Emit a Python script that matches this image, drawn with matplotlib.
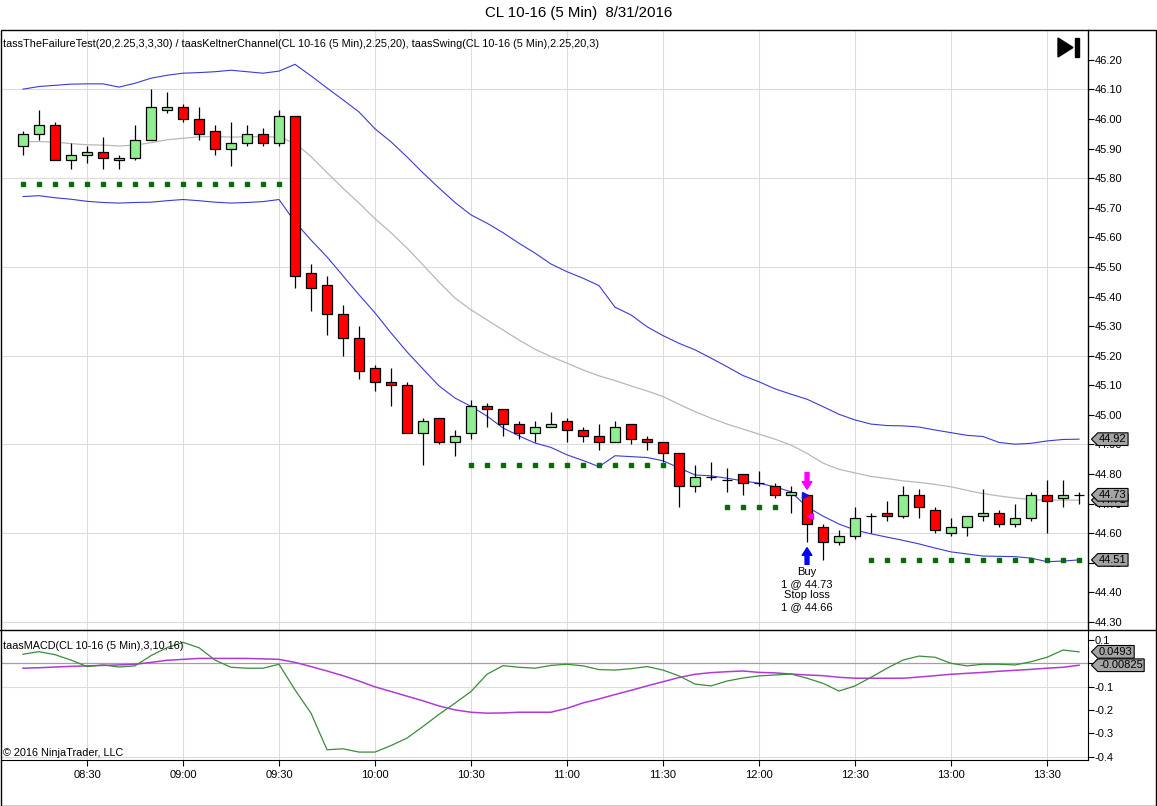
import numpy as np
import pandas as pd
import matplotlib
matplotlib.use('Agg')
import matplotlib.pyplot as plt
from matplotlib.path import Path
from matplotlib.patches import Rectangle, Polygon
from matplotlib.lines import Line2D

plt.rcParams['font.family'] = ['Liberation Sans', 'DejaVu Sans']
plt.rcParams['axes.unicode_minus'] = False

# 5 minute bars, CL 10-16, 31 Aug 2016
times = pd.date_range('2016-08-31 08:10', periods=67, freq='5min')

opens = [45.91, 45.95, 45.98, 45.86, 45.88, 45.89, 45.86, 45.87, 45.93, 46.03,
         46.04, 46.00, 45.96, 45.90, 45.92, 45.95, 45.92, 46.01, 45.48, 45.44,
         45.34, 45.26, 45.16, 45.11, 45.10, 44.94, 44.99, 44.91, 44.94, 45.03,
         45.02, 44.97, 44.94, 44.96, 44.98, 44.95, 44.93, 44.91, 44.97, 44.92,
         44.91, 44.87, 44.76, 44.79, 44.78, 44.80, 44.77, 44.76, 44.73, 44.73,
         44.62, 44.57, 44.59, 44.66, 44.67, 44.66, 44.73, 44.68, 44.60, 44.62,
         44.66, 44.67, 44.63, 44.65, 44.73, 44.72, 44.73]
highs = [45.96, 46.03, 45.99, 45.92, 45.91, 45.94, 45.88, 45.98, 46.10, 46.09,
         46.05, 46.04, 45.98, 45.99, 45.98, 45.97, 46.03, 46.01, 45.51, 45.47,
         45.37, 45.30, 45.17, 45.16, 45.11, 44.99, 44.99, 44.95, 45.05, 45.04,
         45.02, 44.98, 44.98, 45.01, 44.99, 44.96, 44.97, 44.98, 44.97, 44.93,
         44.91, 44.87, 44.83, 44.84, 44.82, 44.80, 44.81, 44.77, 44.76, 44.73,
         44.63, 44.61, 44.69, 44.67, 44.71, 44.76, 44.75, 44.69, 44.65, 44.66,
         44.75, 44.68, 44.70, 44.74, 44.78, 44.78, 44.74]
lows = [45.88, 45.93, 45.86, 45.83, 45.85, 45.83, 45.83, 45.86, 45.93, 46.02,
        45.99, 45.93, 45.88, 45.84, 45.91, 45.91, 45.91, 45.43, 45.35, 45.27,
        45.20, 45.12, 45.08, 45.03, 44.94, 44.83, 44.90, 44.86, 44.92, 44.96,
        44.93, 44.92, 44.91, 44.96, 44.91, 44.91, 44.88, 44.91, 44.90, 44.88,
        44.84, 44.69, 44.74, 44.78, 44.74, 44.73, 44.76, 44.72, 44.67, 44.57,
        44.51, 44.56, 44.58, 44.60, 44.64, 44.65, 44.65, 44.60, 44.59, 44.59,
        44.64, 44.62, 44.62, 44.64, 44.60, 44.69, 44.70]
closes = [45.95, 45.98, 45.86, 45.88, 45.89, 45.87, 45.87, 45.93, 46.04, 46.04,
          46.00, 45.95, 45.90, 45.92, 45.95, 45.92, 46.01, 45.47, 45.43, 45.34,
          45.26, 45.15, 45.11, 45.10, 44.94, 44.98, 44.91, 44.93, 45.03, 45.02,
          44.97, 44.94, 44.96, 44.97, 44.95, 44.93, 44.91, 44.96, 44.92, 44.91,
          44.87, 44.76, 44.79, 44.79, 44.78, 44.77, 44.77, 44.73, 44.74, 44.63,
          44.57, 44.59, 44.65, 44.66, 44.66, 44.73, 44.69, 44.61, 44.62, 44.66,
          44.67, 44.63, 44.65, 44.73, 44.71, 44.73, 44.73]

# Keltner channel (2.25, 20)
kc_upper = [46.101, 46.110, 46.114, 46.118, 46.119, 46.119, 46.108, 46.121, 46.138, 46.148,
            46.155, 46.157, 46.160, 46.165, 46.160, 46.155, 46.162, 46.185, 46.146, 46.105,
            46.065, 46.024, 45.967, 45.923, 45.872, 45.818, 45.767, 45.718, 45.676, 45.648,
            45.616, 45.580, 45.547, 45.510, 45.484, 45.462, 45.437, 45.364, 45.338, 45.298,
            45.268, 45.242, 45.220, 45.192, 45.163, 45.133, 45.112, 45.088, 45.070, 45.053,
            45.028, 45.002, 44.983, 44.969, 44.964, 44.963, 44.959, 44.949, 44.940, 44.931,
            44.927, 44.907, 44.901, 44.904, 44.912, 44.917, 44.918]
kc_mid = [45.923, 45.924, 45.922, 45.917, 45.913, 45.912, 45.909, 45.912, 45.920, 45.930,
          45.935, 45.940, 45.941, 45.939, 45.940, 45.941, 45.938, 45.919, 45.873, 45.819,
          45.766, 45.716, 45.663, 45.616, 45.564, 45.507, 45.449, 45.395, 45.355, 45.321,
          45.287, 45.253, 45.222, 45.197, 45.175, 45.152, 45.132, 45.116, 45.098, 45.081,
          45.062, 45.036, 45.011, 44.989, 44.969, 44.952, 44.935, 44.918, 44.898, 44.870,
          44.837, 44.816, 44.804, 44.792, 44.785, 44.777, 44.772, 44.765, 44.757, 44.745,
          44.734, 44.726, 44.719, 44.714, 44.712, 44.712, 44.712]
kc_lower = [45.738, 45.741, 45.734, 45.729, 45.722, 45.718, 45.716, 45.718, 45.719, 45.724,
            45.728, 45.724, 45.719, 45.716, 45.718, 45.721, 45.728, 45.652, 45.591, 45.534,
            45.470, 45.406, 45.345, 45.277, 45.213, 45.155, 45.098, 45.057, 45.029, 44.996,
            44.956, 44.929, 44.905, 44.890, 44.865, 44.846, 44.825, 44.862, 44.859, 44.856,
            44.845, 44.821, 44.797, 44.794, 44.786, 44.777, 44.769, 44.757, 44.740, 44.689,
            44.658, 44.631, 44.611, 44.598, 44.587, 44.576, 44.564, 44.550, 44.537, 44.530,
            44.523, 44.522, 44.521, 44.516, 44.504, 44.506, 44.510]

# swing lows (level, first bar, last bar)
swing_levels = [45.78, 44.83, 44.69, 44.51]
swing_first = [0, 28, 44, 53]
swing_last = [16, 40, 47, 66]

# MACD (3, 10, 16)
macd = [0.039, 0.050, 0.037, 0.014, -0.014, -0.007, -0.016, -0.011, 0.033, 0.067,
        0.090, 0.067, 0.014, -0.017, -0.021, -0.021, -0.004, -0.114, -0.214, -0.371,
        -0.367, -0.381, -0.381, -0.353, -0.321, -0.271, -0.219, -0.171, -0.121, -0.047,
        -0.010, -0.017, -0.021, -0.009, -0.004, -0.011, -0.027, -0.029, -0.023, -0.014,
        -0.029, -0.054, -0.089, -0.097, -0.076, -0.063, -0.054, -0.050, -0.046, -0.064,
        -0.086, -0.119, -0.097, -0.060, -0.021, 0.014, 0.031, 0.026, 0.000, -0.011,
        -0.004, -0.004, -0.007, 0.007, 0.026, 0.057, 0.0493]
macd_avg = [-0.021, -0.019, -0.016, -0.013, -0.011, -0.009, -0.007, -0.004, 0.004, 0.013,
            0.017, 0.021, 0.021, 0.021, 0.021, 0.019, 0.017, 0.004, -0.014, -0.033,
            -0.053, -0.076, -0.101, -0.121, -0.141, -0.161, -0.183, -0.200, -0.210, -0.214,
            -0.213, -0.210, -0.210, -0.210, -0.193, -0.170, -0.153, -0.134, -0.116, -0.097,
            -0.079, -0.061, -0.047, -0.040, -0.036, -0.033, -0.039, -0.041, -0.046, -0.050,
            -0.053, -0.060, -0.064, -0.064, -0.064, -0.064, -0.059, -0.053, -0.047, -0.043,
            -0.039, -0.034, -0.030, -0.026, -0.021, -0.017, -0.00825]

entry_bar = 49
entry_price = 44.73
stop_price = 44.66

W, H = 1157, 806
fig = plt.figure(figsize=(W / 100, H / 100), dpi=100)


def px_box(l, t, r, b):
    return [l / W, 1 - b / H, (r - l) / W, (b - t) / H]


def tag_box(x0, y0, width, height, mutation_size):
    pad = 0.12 * mutation_size
    x0, y0 = x0 - pad, y0 - pad
    width, height = width + 2 * pad, height + 2 * pad
    tip = height * 0.5
    verts = [(x0 - tip, y0 + height / 2), (x0, y0), (x0 + width, y0),
             (x0 + width, y0 + height), (x0, y0 + height), (x0 - tip, y0 + height / 2)]
    codes = [Path.MOVETO] + [Path.LINETO] * 4 + [Path.CLOSEPOLY]
    return Path(verts, codes)


def add_tag(axis, value, text):
    axis.annotate(text, xy=(1, value), xycoords=axis.get_yaxis_transform(),
                  xytext=(8, 0), textcoords='offset points', ha='left', va='center',
                  fontsize=8, annotation_clip=False, zorder=10,
                  bbox=dict(boxstyle=tag_box, fc='#a4a4a4', ec='black', lw=0.8))


x = np.arange(len(times))
grid_c = '#dcdcdc'
tick_idx = [i for i, t in enumerate(times) if t.minute % 30 == 0]
tick_lab = [times[i].strftime('%H:%M') for i in tick_idx]

ax = fig.add_axes(px_box(1, 30, 1088, 630))
ax2 = fig.add_axes(px_box(1, 630, 1088, 760), sharex=ax)

# ---- price panel
for i in tick_idx:
    ax.axvline(i, color=grid_c, lw=0.8, zorder=0)
for lvl in np.arange(44.30, 46.15, 0.30):
    ax.axhline(lvl, color=grid_c, lw=0.8, zorder=0)

ax.plot(x, kc_upper, color='#3a3ad8', lw=0.8, zorder=2)
ax.plot(x, kc_lower, color='#3a3ad8', lw=0.8, zorder=2)
ax.plot(x, kc_mid, color='#b8b8b8', lw=0.9, zorder=2)

for lvl, a, b in zip(swing_levels, swing_first, swing_last):
    xs = np.arange(a, b + 1)
    ax.plot(xs, [lvl] * len(xs), ls='none', marker='s', ms=3.2, color='#0b6b0b', zorder=3)

o = np.array(opens)
c = np.array(closes)
body_col = ['#90ee90' if cc > oo else '#ff0000' for oo, cc in zip(o, c)]
ax.vlines(x, lows, highs, color='black', lw=0.9, zorder=4)
ax.bar(x, np.abs(c - o), bottom=np.minimum(o, c), width=0.62, color=body_col,
       edgecolor='black', linewidth=0.9, zorder=5)

# trade markers
ax.annotate('', xy=(entry_bar, highs[entry_bar]), xytext=(0, 16), textcoords='offset points',
            arrowprops=dict(arrowstyle='simple,head_length=0.55,head_width=0.7,tail_width=0.28',
                            fc='#ff00ff', ec='#ff00ff', shrinkA=0, shrinkB=4), zorder=6)
ax.annotate('', xy=(entry_bar, lows[entry_bar]), xytext=(0, -16), textcoords='offset points',
            arrowprops=dict(arrowstyle='simple,head_length=0.55,head_width=0.7,tail_width=0.28',
                            fc='#0000ff', ec='#0000ff', shrinkA=0, shrinkB=4), zorder=6)
ax.plot([entry_bar - 0.1], [entry_price], marker='>', ms=5, color='#1010e0', zorder=6)
ax.plot([entry_bar + 0.2], [stop_price], marker='<', ms=4, color='#ff00ff', zorder=6)
ax.annotate('Buy\n1 @ %.2f\nStop loss\n1 @ %.2f' % (entry_price, stop_price),
            xy=(entry_bar, lows[entry_bar]), xytext=(0, -18), textcoords='offset points',
            ha='center', va='top', fontsize=8, linespacing=1.2)

ax.set_xlim(-1.375, 66.56)
ax.set_ylim(44.273, 46.301)
ax.yaxis.tick_right()
ax.set_yticks(np.round(np.arange(44.30, 46.21, 0.10), 2))
ax.set_yticklabels(['%.2f' % v for v in np.arange(44.30, 46.21, 0.10)])
ax.tick_params(axis='y', direction='out', length=4, width=0.8, labelsize=8, pad=1)
ax.tick_params(axis='x', bottom=False, labelbottom=False)
for s in ['top', 'left', 'bottom']:
    ax.spines[s].set_visible(False)
ax.spines['right'].set_linewidth(1.0)

add_tag(ax, kc_upper[-1], '%.2f' % kc_upper[-1])
add_tag(ax, kc_mid[-1], '%.2f' % kc_mid[-1])
add_tag(ax, closes[-1], '%.2f' % closes[-1])
add_tag(ax, kc_lower[-1], '%.2f' % kc_lower[-1])

ax.text(0.002, 0.985, 'tassTheFailureTest(20,2.25,3,3,30) / taasKeltnerChannel(CL 10-16 (5 Min),2.25,20), '
        'taasSwing(CL 10-16 (5 Min),2.25,20,3)', transform=ax.transAxes, fontsize=7.8,
        ha='left', va='top')

# ---- MACD panel
for i in tick_idx:
    ax2.axvline(i, color=grid_c, lw=0.8, zorder=0)
for lvl in [-0.1, -0.4]:
    ax2.axhline(lvl, color=grid_c, lw=0.8, zorder=0)
ax2.axhline(0, color='#a0a0a0', lw=0.9, zorder=1)
ax2.plot(x, macd, color='#3a8c3a', lw=0.9, zorder=3)
ax2.plot(x, macd_avg, color='#b03ad8', lw=1.1, zorder=2)

ax2.set_ylim(-0.415, 0.143)
ax2.yaxis.tick_right()
macd_ticks = [0.1, 0, -0.1, -0.2, -0.3, -0.4]
ax2.set_yticks(macd_ticks)
ax2.set_yticklabels(['%g' % v for v in macd_ticks])
ax2.tick_params(axis='y', direction='out', length=4, width=0.8, labelsize=8, pad=1)
ax2.set_xticks(tick_idx)
ax2.set_xticklabels(tick_lab)
ax2.tick_params(axis='x', direction='out', length=4, width=0.8, labelsize=8, pad=3)
ax2.spines['left'].set_visible(False)
ax2.spines['top'].set_visible(False)

add_tag(ax2, macd[-1], '%.4f' % macd[-1])
add_tag(ax2, macd_avg[-1], '%.5f' % macd_avg[-1])

ax2.text(0.002, 0.88, 'taasMACD(CL 10-16 (5 Min),3,10,16)', transform=ax2.transAxes,
         fontsize=7.8, ha='left', va='center')
ax2.text(0.002, 0.05, '\u00a9 2016 NinjaTrader, LLC', transform=ax2.transAxes,
         fontsize=7.8, ha='left', va='center')

# ---- frame, title, icon
fig.add_artist(Rectangle((0.5 / W, 1 - 805.5 / H), 1155.5 / W, 775.5 / H, transform=fig.transFigure,
                         fill=False, ec='black', lw=1.0))
fig.add_artist(Line2D([0, 1], [1 - 630 / H] * 2, transform=fig.transFigure, color='black', lw=1.0))
fig.text(0.5, 1 - 13 / H, 'CL 10-16 (5 Min)  8/31/2016', ha='center', va='center', fontsize=10.8)
fig.add_artist(Polygon([(1058 / W, 1 - 38 / H), (1058 / W, 1 - 57 / H), (1073 / W, 1 - 47.5 / H)],
                       closed=True, transform=fig.transFigure, color='black'))
fig.add_artist(Rectangle((1075 / W, 1 - 57 / H), 3.5 / W, 19 / H, transform=fig.transFigure,
                         color='black'))

fig.savefig('out.png', dpi=100)
